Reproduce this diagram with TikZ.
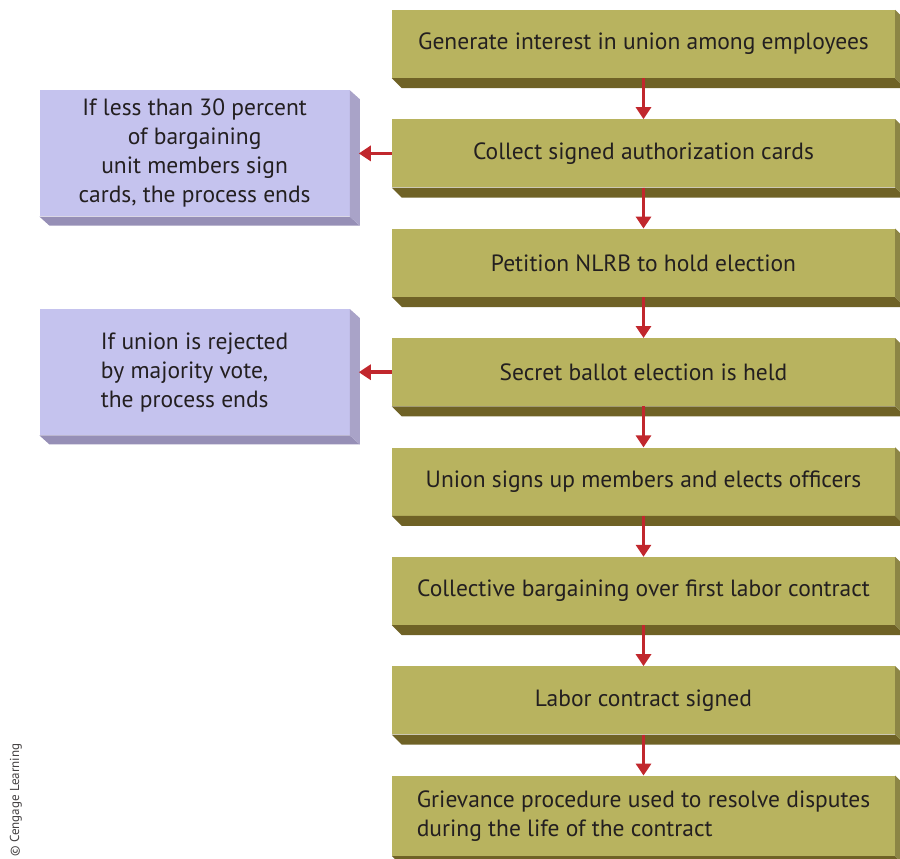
\documentclass[tikz,border=0pt]{standalone}
\usepackage{fontspec}
\setmainfont{PT Sans}
\usetikzlibrary{arrows.meta,positioning,calc}

\definecolor{olivefront}{HTML}{B8B35F}
\definecolor{oliveband}{HTML}{6F6226}
\definecolor{oliveside}{HTML}{8C8545}
\definecolor{lilacfront}{HTML}{C5C3EE}
\definecolor{lilacband}{HTML}{968FB6}
\definecolor{lilacside}{HTML}{A9A3C8}
\definecolor{arrowred}{HTML}{C1272D}
\definecolor{inktext}{HTML}{231F20}

\begin{document}
\begin{tikzpicture}[x=1pt, y=-1pt,
    stepbox/.style={fill=olivefront, minimum width=503pt, minimum height=68pt, inner sep=0pt, align=center, text=inktext, font=\fontsize{23.5}{29}\selectfont},
    endbox/.style={fill=lilacfront, minimum width=310pt, minimum height=126pt, inner sep=0pt, align=center, text=inktext, font=\fontsize{23.5}{29}\selectfont},
    arr/.style={-{Triangle[length=12pt, width=15pt]}, line width=3.5pt, draw=arrowred, fill=arrowred},
    node distance=41pt
]
\clip (0,0) rectangle (900,859);
\useasboundingbox (0,0) rectangle (900,859);

% main steps
\node[stepbox] (s1) at (643.5,44) {Generate interest in union among employees};
\node[stepbox, below=41pt of s1] (s2) {Collect signed authorization cards};
\node[stepbox, below=41pt of s2] (s3) {Petition NLRB to hold election};
\node[stepbox, below=41pt of s3] (s4) {Secret ballot election is held};
\node[stepbox, below=41pt of s4] (s5) {Union signs up members and elects officers};
\node[stepbox, below=41pt of s5] (s6) {Collective bargaining over first labor contract};
\node[stepbox, below=41pt of s6] (s7) {Labor contract signed};
\node[stepbox, below=41pt of s7, minimum height=80pt, align=left] (s8) {Grievance procedure used to resolve disputes\\during the life of the contract};

% exits
\node[endbox, left=42pt of s2] (e1) {If less than 30 percent\\of bargaining\\unit members sign\\cards, the process ends};
\node[endbox, left=42pt of s4, align=left] (e2) {If union is rejected\\by majority vote,\\the process ends};

% depth of the slabs
\foreach \i in {1,...,8} {
  \fill[oliveband] (s\i.south west) -- (s\i.south east) -- ++(10,10) -- ([shift={(10,10)}]s\i.south west) -- cycle;
  \fill[oliveside] (s\i.north east) -- ++(10,10) -- ([shift={(10,10)}]s\i.south east) -- (s\i.south east) -- cycle;
}
\foreach \i in {1,2} {
  \fill[lilacband] (e\i.south west) -- (e\i.south east) -- ++(10,9) -- ([shift={(10,9)}]e\i.south west) -- cycle;
  \fill[lilacside] (e\i.north east) -- ++(10,9) -- ([shift={(10,9)}]e\i.south east) -- (e\i.south east) -- cycle;
}

\foreach \i [evaluate=\i as \j using int(\i+1)] in {1,...,7}
  \draw[arr] (s\i.south) -- (s\j.north);
\draw[arr] (s2.west) -- ([xshift=9pt]e1.east);
\draw[arr] (s4.west) -- ([xshift=9pt]e2.east);

\node[rotate=90, anchor=west, inner sep=0pt, text=inktext!85, font=\fontsize{13}{15}\selectfont] (credit) at (16,857) {\copyright\ Cengage Learning};
\end{tikzpicture}
\end{document}
